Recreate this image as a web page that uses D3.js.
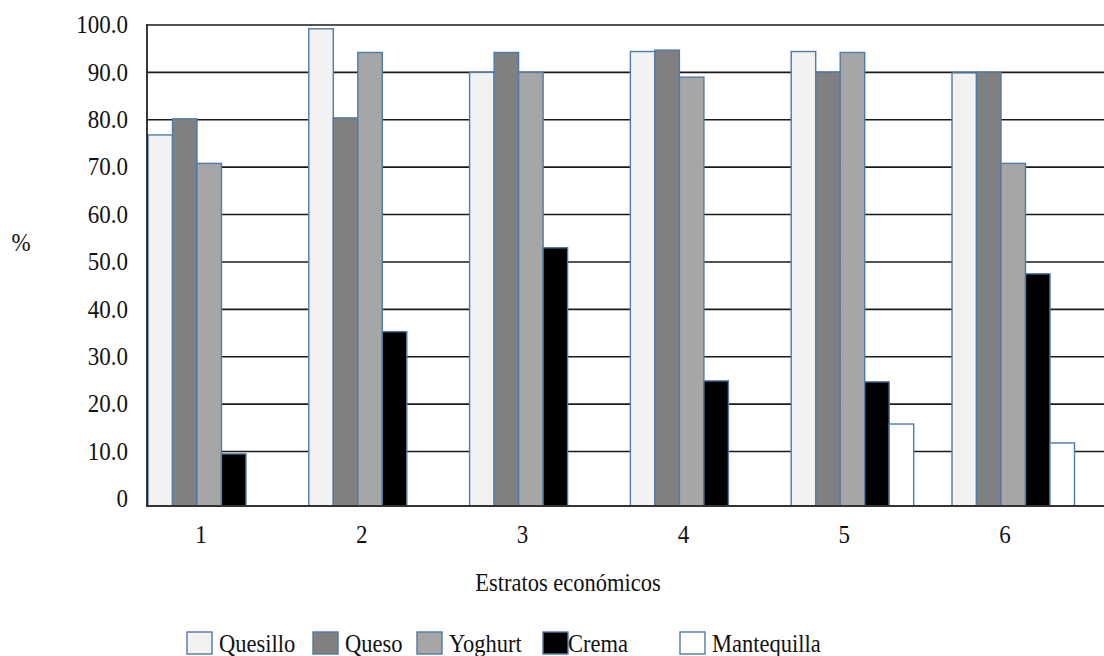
<!DOCTYPE html>
<html>
<head>
<meta charset="utf-8">
<script src="https://cdn.jsdelivr.net/npm/d3@7/dist/d3.min.js"></script>
<style>
  html, body { margin: 0; padding: 0; background: #fff; }
  svg { display: block; }
</style>
</head>
<body>
<svg id="chart" width="1104" height="656"></svg>
<script>
// Consumption of dairy products by economic stratum (%)
const categories = ["1", "2", "3", "4", "5", "6"];
const seriesNames = ["Quesillo", "Queso", "Yoghurt", "Crema", "Mantequilla"];
const quesillo    = [76.8, 99.2, 90.0, 94.4, 94.4, 89.9];
const queso       = [80.2, 80.4, 94.2, 94.7, 90.0, 90.0];
const yoghurt     = [70.8, 94.2, 90.0, 89.0, 94.2, 70.8];
const crema       = [9.5, 35.3, 53.0, 24.9, 24.7, 47.5];
const mantequilla = [0, 0, 0, 0, 15.8, 11.8];
const seriesFills = ["#f2f2f2", "#808080", "#a6a6a6", "#000000", "#ffffff"];
const yTicks = [0, 10, 20, 30, 40, 50, 60, 70, 80, 90, 100];
const yTickLabels = ["0", "10.0", "20.0", "30.0", "40.0", "50.0", "60.0", "70.0", "80.0", "90.0", "100.0"];
const yAxisTitle = "%";
const xAxisTitle = "Estratos económicos";

const seriesValues = [quesillo, queso, yoghurt, crema, mantequilla];
const serifFont = "'Liberation Serif', 'Times New Roman', Times, 'DejaVu Serif', serif";

const svg = d3.select("#chart");
const plotLeft = 147, plotRight = 1104, plotTop = 25, baseline = 506;

// the value axis sits slightly above the category axis line
const y = d3.scaleLinear().domain([-1.5, 100]).range([baseline, plotTop]);
const x = d3.scaleBand().domain(categories).range([plotLeft, plotLeft + 6 * 160.8]);
const xInner = d3.scaleBand().domain(seriesNames).range([0, 122.5]);
const groupOffset = 1, labelOffset = 54;

// text in this chart is drawn slightly taller than wide
function label(g, txt, tx, ty, size, anchor) {
  return g.append("text")
    .attr("transform", `translate(${tx},${ty}) scale(1,1.1)`)
    .attr("text-anchor", anchor || "start")
    .attr("font-family", serifFont)
    .attr("font-size", size)
    .attr("fill", "#111")
    .text(txt);
}

// gridlines
svg.append("g").selectAll("line")
  .data(yTicks.filter(d => d > 0))
  .join("line")
  .attr("x1", plotLeft).attr("x2", plotRight)
  .attr("y1", d => y(d)).attr("y2", d => y(d))
  .attr("stroke", "#1a1a1a").attr("stroke-width", 1.6);

// bars
const groups = svg.append("g").selectAll("g")
  .data(categories)
  .join("g")
  .attr("transform", c => `translate(${x(c) + groupOffset},0)`);

groups.selectAll("rect")
  .data((c, ci) => seriesNames.map((s, si) => ({ s, si, v: seriesValues[si][ci] })).filter(d => d.v > 0))
  .join("rect")
  .attr("x", d => xInner(d.s))
  .attr("width", xInner.bandwidth())
  .attr("y", d => y(d.v))
  .attr("height", d => baseline - y(d.v))
  .attr("fill", d => seriesFills[d.si])
  .attr("stroke", "#4f7ba8")
  .attr("stroke-width", 1.4);

// axis lines
svg.append("line")
  .attr("x1", plotLeft).attr("x2", plotLeft)
  .attr("y1", plotTop - 1).attr("y2", baseline + 1)
  .attr("stroke", "#222").attr("stroke-width", 1.8);
svg.append("line")
  .attr("x1", plotLeft).attr("x2", plotRight)
  .attr("y1", baseline).attr("y2", baseline)
  .attr("stroke", "#333").attr("stroke-width", 1.8);

// y tick labels
const yl = svg.append("g");
yTicks.forEach((t, i) => label(yl, yTickLabels[i], 128, y(t) + 8.3, 23, "end"));

// x tick labels
const xl = svg.append("g");
categories.forEach(c => label(xl, c, x(c) + labelOffset, 543, 23, "middle"));

// axis titles
label(svg, yAxisTitle, 21, 251, 23, "middle");
label(svg, xAxisTitle, 568, 591, 22.5, "middle");

// legend
const legendSwatchX = [187, 313, 417, 543, 680];
const legend = svg.append("g");
seriesNames.forEach((s, i) => {
  legend.append("rect")
    .attr("x", legendSwatchX[i]).attr("y", 632)
    .attr("width", 25).attr("height", 22)
    .attr("fill", seriesFills[i])
    .attr("stroke", "#4f7ba8").attr("stroke-width", 1.4);
  label(legend, s, legendSwatchX[i] + (i === 3 ? 25 : 32), 652, 22.5, "start");
});
</script>
</body>
</html>
